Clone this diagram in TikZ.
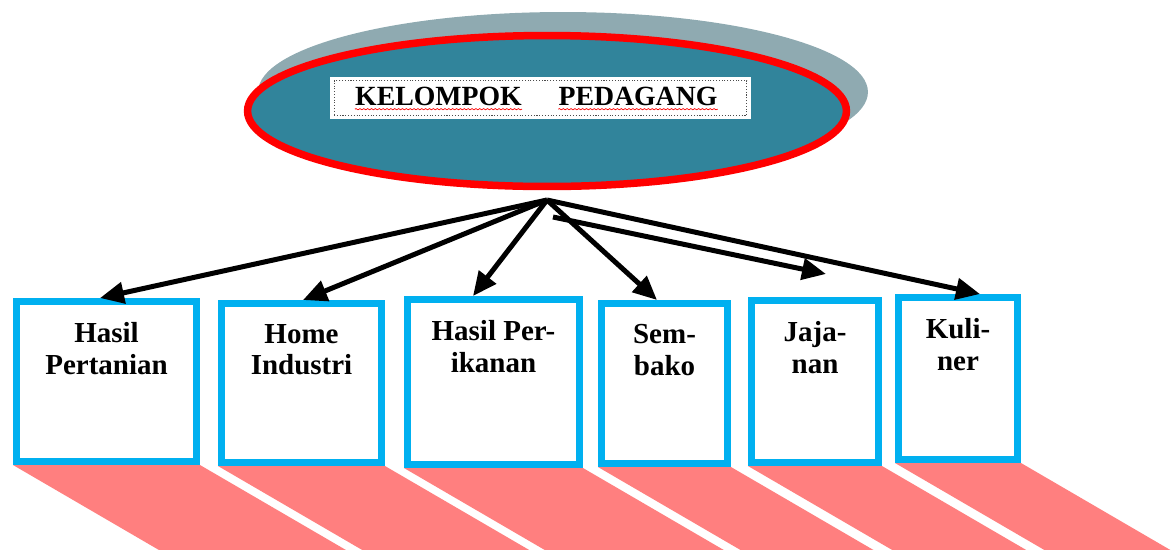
\documentclass[tikz,border=0pt]{standalone}
\usepackage{fontspec}
\setmainfont{Liberation Serif}
\usetikzlibrary{arrows.meta,positioning,shapes,decorations.pathmorphing}
\definecolor{tealfill}{HTML}{31849B}
\definecolor{shadowgrey}{HTML}{8FAAB1}
\definecolor{boxblue}{HTML}{00B0F0}
\definecolor{salmon}{HTML}{FF7F7F}

\begin{document}
\begin{tikzpicture}[x=0.02cm,y=-0.02cm,
  box/.style={rectangle,draw=boxblue,line width=0.14cm,fill=white,inner sep=0pt},
  lbl/.style={inner sep=0pt,align=center,font=\fontsize{16.5}{18}\selectfont\bfseries},
  word/.style={inner sep=0pt,font=\fontsize{15.8}{18}\selectfont\bfseries},
  arr/.style={line width=0.1cm,-{Triangle[length=0.48cm,width=0.42cm]}},
  wavy/.style={red,line width=0.4pt,decorate,decoration={snake,amplitude=0.35pt,segment length=2.2pt}}]

  \useasboundingbox (0,0) rectangle (1173,549);
  \clip (0,0) rectangle (1173,549);

  % Group node
  \node[ellipse,fill=shadowgrey,minimum width=12.2cm,minimum height=3.2cm] (gshadow) at (563,92) {};
  \node[ellipse,draw=red,line width=0.15cm,fill=tealfill,minimum width=11.98cm,minimum height=3.02cm] (grp) at (547,111) {};

  % Title
  \node[rectangle,fill=white,minimum width=8.42cm,minimum height=0.84cm,inner sep=0pt] (tbox) at (540.5,98) {};
  \node[rectangle,draw=black!70,densely dotted,line width=0.6pt,minimum width=8.26cm,minimum height=0.7cm,inner sep=0pt] (tframe) at (tbox) {};
  \node[word] (w1) at (438.5,96) {KELOMPOK};
  \node[word] (w2) at (638,96) {PEDAGANG};
  \draw[wavy] ([yshift=-2pt]w1.south west) -- ([yshift=-2pt]w1.south east);
  \draw[wavy] ([yshift=-2pt]w2.south west) -- ([yshift=-2pt]w2.south east);

  % Category boxes
  \foreach \i/\x/\y/\w/\h in {1/106.5/381.5/180/160, 2/301.5/383/160/159, 3/493.5/382/172/165,
                              4/664.5/383.5/126/160, 5/815/381.5/127/162, 6/958/378.5/119/162} {
    \node[box,minimum width=\w*0.02cm,minimum height=\h*0.02cm] (b\i) at (\x,\y) {};
    \fill[salmon] (b\i.south west) -- (b\i.south east) -- ++(170,99)
      -- ([shift={(170,99)}]b\i.south west) -- cycle;
  }
  \foreach \i/\txt in {1/{Hasil\\Pertanian}, 2/{Home\\Industri}, 3/{Hasil Per-\\ikanan},
                       4/{Sem-\\bako}, 5/{Jaja-\\nan}, 6/{Kuli-\\ner}}
    \node[lbl,anchor=north] (t\i) at ([yshift=-0.48cm]b\i.north) {\txt};

  % Arrows
  \coordinate (hub) at (547,200);
  \coordinate (hubj) at (553,217);
  \coordinate (jtip) at (826,274);
  \draw[arr] (hub) -- ([xshift=-0.13cm]b1.north);
  \draw[arr] (hub) -- ([xshift=0.03cm]b2.north);
  \draw[arr] (hub) -- ([xshift=-0.41cm]b3.north);
  \draw[arr] (hub) -- ([xshift=-0.15cm]b4.north);
  \draw[arr] (hubj) -- (jtip);
  \draw[arr] (hub) -- ([xshift=0.44cm]b6.north);
\end{tikzpicture}
\end{document}
